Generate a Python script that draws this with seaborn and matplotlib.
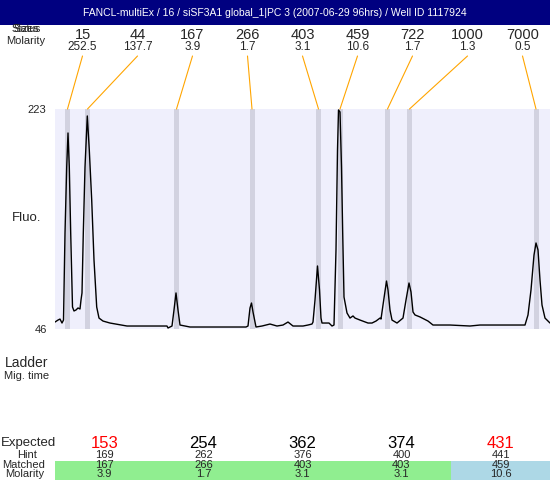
import matplotlib
matplotlib.use("Agg")
import matplotlib.pyplot as plt
from matplotlib.patches import Rectangle, ConnectionPatch
import seaborn as sns
import pandas as pd

TITLE = "FANCL-multiEx / 16 / siSF3A1 global_1|PC 3 (2007-06-29 96hrs) / Well ID 1117924"

# ladder peaks (top strip)
ladder_sizes = ["15", "44", "167", "266", "403", "459", "722", "1000", "7000"]
ladder_molarity = ["252.5", "137.7", "3.9", "1.7", "3.1", "10.6", "1.7", "1.3", "0.5"]
peak_times = [12.5, 32.5, 121.5, 197, 263.5, 285, 332.5, 354.5, 481]

# electropherogram trace
mig = [0, 3, 5, 7, 8.5, 10, 11.7, 13, 14.3, 15.7, 17.5, 19, 21, 23, 25, 26, 27, 28.3, 30, 32.3,
       34.3, 36.7, 39, 41.7, 44, 48, 55, 72, 95, 112, 113, 115, 117, 119, 121, 123, 125, 135, 180, 191,
       193, 195, 196.5, 198, 201, 207, 215, 222, 228, 233, 238, 248, 253, 257, 258, 260, 262.5, 264.5, 266, 267,
       274, 277, 279, 281, 282.5, 283.5, 285, 286.5, 287.7, 289, 292, 295, 298, 300, 305, 313, 317, 321, 325, 326,
       328, 331.5, 333, 335, 337, 342, 348, 351, 354, 356, 358, 360, 365, 373, 378, 395, 415, 425, 445, 470,
       473, 476, 479, 481, 483, 485, 487, 490, 495]
fluo = [51.6, 53.2, 54.0, 50.8, 53.2, 123.2, 176.3, 203.7, 176.3, 123.2, 63.7, 60.5, 61.3, 62.9, 62.1, 69.3, 75.0, 123.2, 176.3, 217.4,
        190.0, 149.8, 101.5, 63.7, 54.8, 52.4, 50.8, 48.4, 48.4, 48.4, 46.8, 47.6, 48.4, 61.3, 75.0, 61.3, 49.2, 47.6, 47.6, 47.6,
        48.4, 62.9, 66.9, 59.7, 47.6, 48.4, 50.0, 48.4, 49.2, 51.6, 48.4, 48.4, 49.2, 50.0, 51.6, 69.3, 96.7, 77.4, 54.8, 50.8,
        50.8, 48.4, 49.2, 109.6, 190.0, 222.2, 220.6, 176.3, 123.2, 71.7, 58.9, 54.8, 56.5, 54.8, 53.2, 50.8, 50.8, 52.4, 54.8, 54.0,
        65.3, 84.6, 77.4, 61.3, 53.2, 50.8, 54.8, 69.3, 83.0, 75.8, 59.7, 57.3, 55.7, 52.4, 49.2, 49.2, 48.4, 49.2, 49.2, 49.2,
        57.3, 77.4, 105.5, 115.2, 109.6, 85.4, 65.3, 54.8, 50.8]
fluo_min, fluo_max = 46, 223

# bottom table
expected = ["153", "254", "362", "374", "431"]
expected_flag = [True, False, False, False, True]
hint = ["169", "262", "376", "400", "441"]
matched = ["167", "266", "403", "403", "459"]
matched_molarity = ["3.9", "1.7", "3.1", "3.1", "10.6"]
match_status = ["ok", "ok", "ok", "ok", "alt"]
status_colors = {"ok": "#90EE90", "alt": "#ADD8E6"}

sns.set_theme(style="white")
plt.rcParams["font.family"] = ["Liberation Sans", "DejaVu Sans"]

W, H = 550, 480
fig = plt.figure(figsize=(5.5, 4.8), dpi=100)
fig.patch.set_facecolor("white")

# overlay in pixel coords for headers / table
ov = fig.add_axes([0, 0, 1, 1])
ov.set_xlim(0, W)
ov.set_ylim(H, 0)
ov.axis("off")

ov.add_patch(Rectangle((0, 0), W, 25, color="#000080", lw=0))
ov.text(W / 2, 13, TITLE, color="white", ha="center", va="center", fontsize=7.5)

# the reference draws these two on top of each other
ov.text(26, 29, "Sizes", ha="center", va="center", fontsize=7.5)
ov.text(26, 29, "Status", ha="center", va="center", fontsize=7.5)
ov.text(26, 41, "Molarity", ha="center", va="center", fontsize=8)

# main trace
ax = fig.add_axes([55 / W, 1 - 329 / H, 495 / W, 220 / H])
ax.set_facecolor("#EFEFFC")
df = pd.DataFrame({"mig": mig, "fluo": fluo})
for t in peak_times:
    ax.axvspan(t - 2.5, t + 2.5, color="#D2D2E0", lw=0, zorder=1)
sns.lineplot(data=df, x="mig", y="fluo", color="black", lw=1.0, ax=ax, zorder=3)
ax.set_xlim(0, 495)
ax.set_ylim(fluo_min, fluo_max)
ax.set_xticks([])
ax.set_yticks([fluo_min, fluo_max])
ax.set_yticklabels([str(fluo_min), str(fluo_max)], fontsize=8)
ax.tick_params(axis="y", length=0, pad=6)
ax.set_xlabel("")
ax.set_ylabel("")
for s in ax.spines.values():
    s.set_visible(False)

ov.text(27, 218, "Fluo.", ha="center", va="center", fontsize=9.5)

n = len(ladder_sizes)
for i, (sz, mol, t) in enumerate(zip(ladder_sizes, ladder_molarity, peak_times)):
    x = 55 + 495 / n * (i + 0.5)
    ov.text(x, 35, sz, ha="center", va="center", fontsize=10.5)
    ov.text(x, 47.5, mol, ha="center", va="center", fontsize=8.5)
    con = ConnectionPatch(xyA=(x, 56), coordsA=ov.transData,
                          xyB=(t, fluo_max), coordsB=ax.transData,
                          color="#FFA500", lw=0.8)
    fig.add_artist(con)

ov.text(27, 363, "Ladder", ha="center", va="center", fontsize=10)
ov.text(27, 376, "Mig. time", ha="center", va="center", fontsize=8)

# table
m = len(expected)
cw = 495 / m
for i in range(m):
    x0 = 55 + cw * i
    ov.add_patch(Rectangle((x0, 461), cw, 19, color=status_colors[match_status[i]], lw=0))
    xc = x0 + cw / 2
    ov.text(xc, 444, expected[i], ha="center", va="center", fontsize=12,
            color="red" if expected_flag[i] else "black")
    ov.text(xc, 455, hint[i], ha="center", va="center", fontsize=8)
    ov.text(xc, 465, matched[i], ha="center", va="center", fontsize=8)
    ov.text(xc, 474, matched_molarity[i], ha="center", va="center", fontsize=8)

ov.text(1, 443, "Expected", ha="left", va="center", fontsize=9.5)
ov.text(27, 455, "Hint", ha="center", va="center", fontsize=8)
ov.text(24, 465, "Matched", ha="center", va="center", fontsize=8)
ov.text(25, 474, "Molarity", ha="center", va="center", fontsize=8)

fig.savefig("out.png", dpi=100)
